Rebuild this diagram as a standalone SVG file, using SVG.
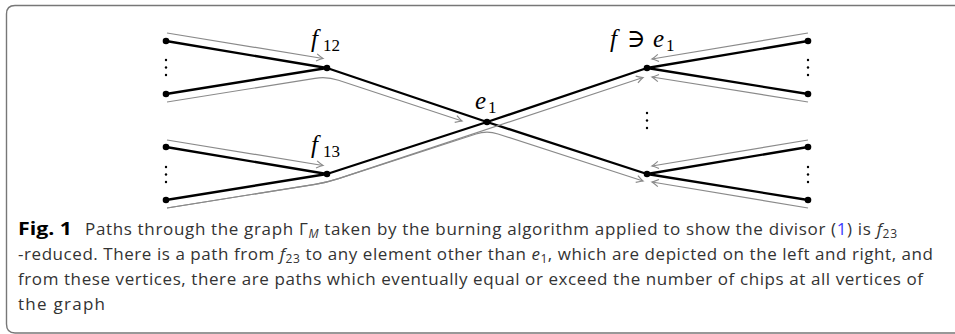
<svg xmlns="http://www.w3.org/2000/svg" width="955" height="334" viewBox="0 0 955 334">
<style>
.edge{stroke:#000;stroke-width:2.3;fill:none;stroke-linecap:round}
.path{stroke:#8a8a8a;stroke-width:1.2;fill:none}
.arr{marker-end:url(#ah)}
.node{fill:#000}
.dot{fill:#000}
.math{font-family:"Liberation Serif","DejaVu Serif",serif;font-size:25px;fill:#000}
.it{font-style:italic}
.sub{font-size:17px}
.cap{font-family:"Open Sans","Noto Sans",sans-serif;font-size:17px;fill:#333}
.frame{stroke:#777;stroke-width:1.4;fill:none}
</style>
<defs>
<marker id="ah" viewBox="-8 -5 10 10" refX="0" refY="0" markerWidth="10" markerHeight="10" markerUnits="userSpaceOnUse" orient="auto">
<path d="M-6.5,-3.6 Q-2,-0.8 0,0 Q-2,0.8 -6.5,3.6" fill="none" stroke="#8a8a8a" stroke-width="1.2"/>
</marker>
</defs>
<path class="frame" d="M955,5.5 H15 Q6.5,5.5 6.5,14 V324 Q6.5,333 15,333 H955"/>

<g id="connectors">
<g id="edges">
<line class="edge" x1="166" y1="41" x2="327" y2="68"/>
<line class="edge" x1="166" y1="94" x2="327" y2="68"/>
<line class="edge" x1="327" y1="68" x2="487" y2="122"/>
<line class="edge" x1="166" y1="147" x2="327" y2="174"/>
<line class="edge" x1="166" y1="200" x2="327" y2="174"/>
<line class="edge" x1="327" y1="174" x2="487" y2="122"/>
<line class="edge" x1="487" y1="122" x2="647" y2="68"/>
<line class="edge" x1="487" y1="122" x2="647" y2="174"/>
<line class="edge" x1="647" y1="68" x2="808" y2="41"/>
<line class="edge" x1="647" y1="68" x2="808" y2="94"/>
<line class="edge" x1="647" y1="174" x2="808" y2="147"/>
<line class="edge" x1="647" y1="174" x2="808" y2="200"/>
</g>
<g id="burning-paths">
<path class="path arr" d="M167,33 L323,58.5"/>
<path class="path arr" d="M167,102 L315,78.3 Q327,76.4 338.5,80.2 L462,121"/>
<path class="path arr" d="M167,140 L323,165.5"/>
<path class="path arr" d="M167,208 L315,184.3 Q327,182.4 338.5,178.6 L643,77.5"/>
<path class="path arr" d="M167,208 L315,184.3 Q327,182.4 338.5,178.6 L476,134 Q487,130.4 498,134 L643,181"/>
<path class="path arr" d="M808,33 L652,59"/>
<path class="path arr" d="M808,102 L652,77"/>
<path class="path arr" d="M808,140 L652,166"/>
<path class="path arr" d="M808,208 L652,182"/>
</g>
</g>

<g id="n-l1"><circle class="node" cx="166" cy="41" r="3.3"/></g>
<g id="n-l2"><circle class="node" cx="166" cy="94" r="3.3"/></g>
<g id="n-l3"><circle class="node" cx="166" cy="147" r="3.3"/></g>
<g id="n-l4"><circle class="node" cx="166" cy="200" r="3.3"/></g>
<g id="n-f12"><circle class="node" cx="327" cy="68" r="3.3"/>
<text class="math" x="311" y="47"><tspan class="it">f</tspan><tspan class="sub" x="323" dy="4">12</tspan></text></g>
<g id="n-f13"><circle class="node" cx="327" cy="174" r="3.3"/>
<text class="math" x="311" y="153"><tspan class="it">f</tspan><tspan class="sub" x="323" dy="4">13</tspan></text></g>
<g id="n-e1"><circle class="node" cx="487" cy="122" r="3.3"/>
<text class="math" x="475" y="109"><tspan class="it">e</tspan><tspan class="sub" x="488" dy="4">1</tspan></text></g>
<g id="n-f"><circle class="node" cx="647" cy="68" r="3.3"/>
<text class="math" x="610" y="47"><tspan class="it">f</tspan><tspan x="627">∋</tspan><tspan class="it" x="653">e</tspan><tspan class="sub" x="666" dy="4">1</tspan></text></g>
<g id="n-g"><circle class="node" cx="647" cy="174" r="3.3"/></g>
<g id="n-r1"><circle class="node" cx="808" cy="41" r="3.3"/></g>
<g id="n-r2"><circle class="node" cx="808" cy="94" r="3.3"/></g>
<g id="n-r3"><circle class="node" cx="808" cy="147" r="3.3"/></g>
<g id="n-r4"><circle class="node" cx="808" cy="200" r="3.3"/></g>

<g id="ellipses">
<circle class="dot" cx="166" cy="60" r="1.2"/><circle class="dot" cx="166" cy="67.5" r="1.2"/><circle class="dot" cx="166" cy="75" r="1.2"/>
<circle class="dot" cx="166" cy="167" r="1.2"/><circle class="dot" cx="166" cy="174.5" r="1.2"/><circle class="dot" cx="166" cy="182" r="1.2"/>
<circle class="dot" cx="647" cy="113" r="1.2"/><circle class="dot" cx="647" cy="120.5" r="1.2"/><circle class="dot" cx="647" cy="128" r="1.2"/>
<circle class="dot" cx="808" cy="60" r="1.2"/><circle class="dot" cx="808" cy="67.5" r="1.2"/><circle class="dot" cx="808" cy="75" r="1.2"/>
<circle class="dot" cx="808" cy="167" r="1.2"/><circle class="dot" cx="808" cy="174.5" r="1.2"/><circle class="dot" cx="808" cy="182" r="1.2"/>
</g>

<g id="caption">
<text class="cap" x="18" y="235" textLength="54" lengthAdjust="spacingAndGlyphs"><tspan font-weight="bold" fill="#000">Fig. 1</tspan></text>
<text class="cap" x="85" y="235" textLength="812" lengthAdjust="spacing">Paths through the graph Γ<tspan font-style="italic" font-size="12" dy="3">M</tspan><tspan dy="-3"> taken by the burning algorithm applied to show the divisor (</tspan><tspan fill="#3b3bff">1</tspan>) is <tspan font-style="italic">f</tspan><tspan font-size="12" dy="3">23</tspan></text>
<text class="cap" x="18" y="260" textLength="915" lengthAdjust="spacing">-reduced. There is a path from <tspan font-style="italic">f</tspan><tspan font-size="12" dy="3">23</tspan><tspan dy="-3"> to any element other than </tspan><tspan font-style="italic">e</tspan><tspan font-size="12" dy="3">1</tspan><tspan dy="-3">, which are depicted on the left and right, and</tspan></text>
<text class="cap" x="18" y="285" textLength="905" lengthAdjust="spacing">from these vertices, there are paths which eventually equal or exceed the number of chips at all vertices of</text>
<text class="cap" x="18" y="310" textLength="87" lengthAdjust="spacing">the graph</text>
</g>
</svg>
